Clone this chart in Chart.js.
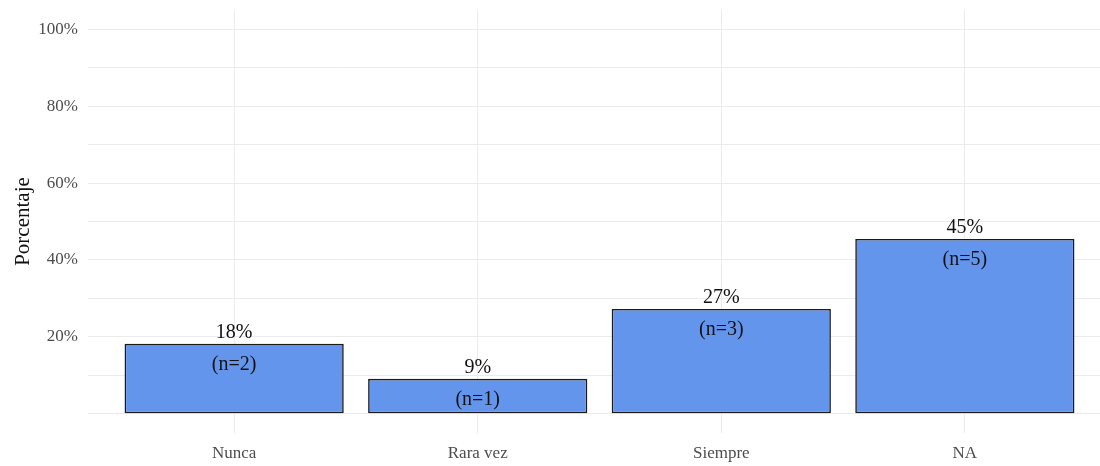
<!DOCTYPE html>
<html>
<head>
<meta charset="utf-8">
<script src="https://cdn.jsdelivr.net/npm/chart.js@4"></script>
<style>
  html, body { margin: 0; padding: 0; background: #fff; overflow: hidden; }
  #wrap { width: 1115px; height: 466px; }
</style>
</head>
<body>
<div id="wrap"><canvas id="chart" width="1115" height="466"></canvas></div>
<script>
'use strict'

// Data
const categories = ['Nunca', 'Rara vez', 'Siempre', 'NA']
const percents = [18.18, 9.09, 27.27, 45.45]
const pctLabels = ['18%', '9%', '27%', '45%']
const countLabels = ['(n=2)', '(n=1)', '(n=3)', '(n=5)']
const yTicks = [0, 10, 20, 30, 40, 50, 60, 70, 80, 90, 100]
const yTickLabels = { 20: '20%', 40: '40%', 60: '60%', 80: '80%', 100: '100%' }

const serif = "'Liberation Serif', 'DejaVu Serif', serif"

// Writes the percentage above each bar and the count just inside it
const barLabels = {
  id: 'barLabels',
  afterDatasetsDraw(chart) {
    const ctx = chart.ctx
    const meta = chart.getDatasetMeta(0)
    ctx.save()
    ctx.fillStyle = '#111'
    ctx.font = '20px ' + serif
    ctx.textAlign = 'center'
    ctx.textBaseline = 'alphabetic'
    meta.data.forEach((bar, i) => {
      ctx.fillText(pctLabels[i], bar.x, bar.y - 6)
      ctx.fillText(countLabels[i], bar.x, bar.y + 26)
    })
    ctx.restore()
  }
}

new Chart(document.getElementById('chart'), {
  type: 'bar',
  data: {
    datasets: [{
      data: categories.map((c, i) => ({ x: i + 1, y: percents[i] })),
      backgroundColor: '#6495ED',
      borderColor: '#1a1a1a',
      borderWidth: 1.6,
      borderSkipped: false,
      categoryPercentage: 1,
      barPercentage: 0.9
    }]
  },
  options: {
    responsive: false,
    animation: false,
    layout: { padding: { top: 10, right: 4, bottom: 0, left: 0 } },
    plugins: {
      legend: { display: false },
      tooltip: { enabled: false }
    },
    scales: {
      x: {
        type: 'linear',
        min: 0.4,
        max: 4.6,
        offset: false,
        afterBuildTicks(scale) {
          scale.ticks = categories.map((c, i) => ({ value: i + 1 }))
        },
        afterFit(scale) {
          scale.height = 33
          scale.paddingLeft = 0
          scale.paddingRight = 0
        },
        ticks: {
          callback: (v) => categories[v - 1],
          color: '#4d4d4d',
          font: { family: serif, size: 17 },
          padding: 10,
          maxRotation: 0,
          autoSkip: false
        },
        grid: { color: '#ebebeb', lineWidth: 1, drawTicks: false, offset: false },
        border: { display: false }
      },
      y: {
        min: -5,
        max: 105,
        afterBuildTicks(scale) {
          scale.ticks = yTicks.map((v) => ({ value: v }))
        },
        afterFit(scale) {
          scale.width = 88
          scale.paddingTop = 0
          scale.paddingBottom = 0
        },
        ticks: {
          callback: (v) => yTickLabels[v] || '',
          color: '#4d4d4d',
          font: { family: serif, size: 17 },
          padding: 10,
          autoSkip: false
        },
        grid: { color: '#ebebeb', lineWidth: 1, drawTicks: false },
        border: { display: false },
        title: {
          display: true,
          text: 'Porcentaje',
          color: '#111',
          font: { family: serif, size: 21 },
          padding: { top: 11, bottom: 0 }
        }
      }
    }
  },
  plugins: [barLabels]
})
</script>
</body>
</html>
